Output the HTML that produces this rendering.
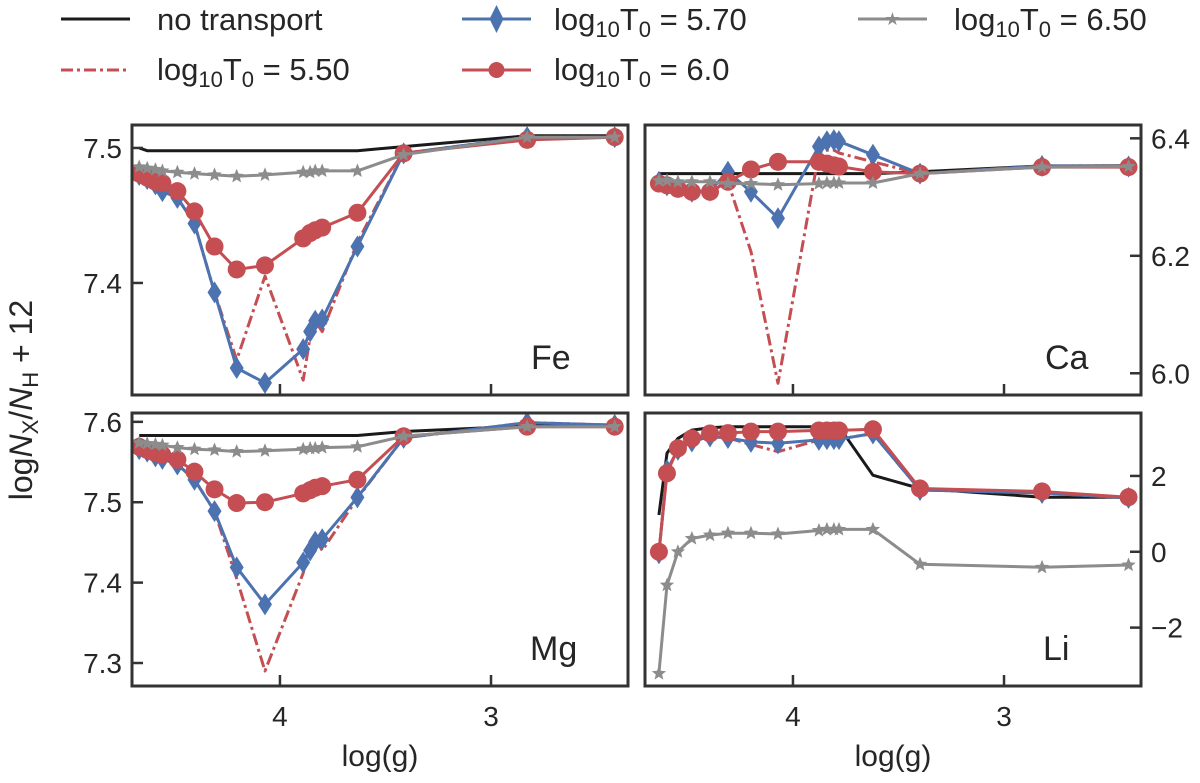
<!DOCTYPE html>
<html><head><meta charset="utf-8">
<style>
html,body{margin:0;padding:0;background:#fff;}
svg{display:block;font-family:"Liberation Sans","DejaVu Sans",sans-serif;}
</style></head>
<body>
<svg id="fig" width="1200" height="783" viewBox="0 0 1200 783" xmlns="http://www.w3.org/2000/svg">
  <g id="legend">
    <g>
      <line x1="61" y1="19" x2="130" y2="19" stroke="#1a1a1a" stroke-width="3"/>
      <text x="157" y="30" font-size="31" fill="#262626">no transport</text>
    </g>
    <g>
      <line x1="61" y1="70" x2="130" y2="70" stroke="#c44e52" stroke-width="3" stroke-dasharray="12,4,3,4"/>
      <text x="157" y="80" font-size="31" fill="#262626">log<tspan font-size="22" dy="7">10</tspan><tspan dy="-7">T</tspan><tspan font-size="22" dy="7">0</tspan><tspan dy="-7"> = 5.50</tspan></text>
    </g>
    <g>
      <line x1="462" y1="19" x2="531" y2="19" stroke="#4c72b0" stroke-width="3"/>
      <polygon points="496.5,5 503.5,19 496.5,33 489.5,19" fill="#4c72b0"/>
      <text x="554" y="30" font-size="31" fill="#262626">log<tspan font-size="22" dy="7">10</tspan><tspan dy="-7">T</tspan><tspan font-size="22" dy="7">0</tspan><tspan dy="-7"> = 5.70</tspan></text>
    </g>
    <g>
      <line x1="462" y1="70" x2="531" y2="70" stroke="#c44e52" stroke-width="3"/>
      <circle cx="496.5" cy="70" r="8" fill="#c44e52"/>
      <text x="554" y="80" font-size="31" fill="#262626">log<tspan font-size="22" dy="7">10</tspan><tspan dy="-7">T</tspan><tspan font-size="22" dy="7">0</tspan><tspan dy="-7"> = 6.0</tspan></text>
    </g>
    <g>
      <line x1="858" y1="19" x2="927" y2="19" stroke="#8c8c8c" stroke-width="3"/>
      <text x="892.5" y="25" font-size="18" fill="#8c8c8c" text-anchor="middle">★</text>
      <text x="954" y="30" font-size="31" fill="#262626">log<tspan font-size="22" dy="7">10</tspan><tspan dy="-7">T</tspan><tspan font-size="22" dy="7">0</tspan><tspan dy="-7"> = 6.50</tspan></text>
    </g>
  </g>
  <text transform="translate(32,400) rotate(-90)" text-anchor="middle" font-size="32" fill="#262626">log<tspan font-style="italic">N</tspan><tspan font-size="22" dy="6">X</tspan><tspan dy="-6">/</tspan><tspan font-style="italic">N</tspan><tspan font-size="22" dy="6">H</tspan><tspan dy="-6"> + 12</tspan></text>
  <text x="380" y="766" text-anchor="middle" font-size="30" fill="#262626">log(g)</text>
  <text x="893" y="766" text-anchor="middle" font-size="30" fill="#262626">log(g)</text>
</svg>
<script>
const xLeft = [4.667,4.629,4.590,4.557,4.486,4.405,4.310,4.205,4.071,3.890,3.857,3.833,3.800,3.633,3.414,2.829,2.414];
const xRight = [4.635,4.597,4.545,4.479,4.393,4.308,4.199,4.071,3.877,3.839,3.806,3.782,3.621,3.398,2.82,2.41];
const xTicks = [4,3];
const feNoT = [7.500,7.498,7.498,7.498,7.498,7.498,7.498,7.498,7.498,7.498,7.498,7.498,7.498,7.498,7.501,7.509,7.509];
const fe550 = [7.480,7.477,7.473,7.468,7.463,7.444,7.393,7.343,7.405,7.328,7.360,7.372,7.364,7.430,7.496,7.508,7.508];
const fe570 = [7.480,7.477,7.473,7.468,7.463,7.444,7.393,7.337,7.326,7.351,7.364,7.372,7.373,7.427,7.496,7.508,7.508];
const fe600 = [7.481,7.478,7.475,7.474,7.468,7.453,7.427,7.410,7.413,7.433,7.437,7.439,7.441,7.452,7.496,7.506,7.508];
const fe650 = [7.486,7.485,7.484,7.483,7.482,7.481,7.480,7.479,7.480,7.482,7.482,7.483,7.483,7.483,7.495,7.508,7.508];
const feTicks = [7.4,7.5];
const mgNoT = [7.583,7.583,7.583,7.583,7.583,7.583,7.583,7.583,7.583,7.583,7.583,7.583,7.583,7.583,7.588,7.595,7.595];
const mg550 = [7.566,7.563,7.557,7.554,7.547,7.528,7.489,7.405,7.290,7.412,7.450,7.455,7.440,7.505,7.580,7.599,7.596];
const mg570 = [7.566,7.563,7.557,7.554,7.547,7.528,7.489,7.419,7.373,7.425,7.440,7.451,7.454,7.506,7.580,7.599,7.596];
const mg600 = [7.569,7.565,7.561,7.559,7.553,7.538,7.516,7.499,7.500,7.511,7.515,7.518,7.520,7.528,7.582,7.594,7.594];
const mg650 = [7.574,7.573,7.572,7.571,7.568,7.566,7.565,7.563,7.564,7.566,7.567,7.567,7.568,7.569,7.582,7.594,7.594];
const mgTicks = [7.3,7.4,7.5,7.6];
const caNoT = [6.340,6.340,6.340,6.340,6.340,6.340,6.340,6.340,6.340,6.340,6.340,6.340,6.340,6.343,6.353,6.353];
const ca550 = [6.326,6.320,6.317,6.309,6.311,6.326,6.207,5.983,6.375,6.380,6.380,6.375,6.360,6.340,6.353,6.352];
const ca570 = [6.326,6.320,6.317,6.309,6.311,6.343,6.309,6.264,6.386,6.395,6.397,6.395,6.372,6.340,6.353,6.352];
const ca600 = [6.323,6.320,6.314,6.309,6.309,6.326,6.347,6.360,6.360,6.357,6.354,6.352,6.343,6.340,6.351,6.351];
const ca650 = [6.328,6.328,6.326,6.326,6.326,6.323,6.323,6.321,6.323,6.324,6.324,6.324,6.324,6.340,6.351,6.352];
const caTicks = [6.0,6.2,6.4];
const liNoT = [0.97,2.60,2.99,3.21,3.27,3.30,3.30,3.30,3.30,3.30,3.30,3.30,2.02,1.67,1.44,1.44];
const li550 = [-0.04,2.15,2.69,2.91,3.04,3.00,2.83,2.64,2.95,2.97,2.97,2.97,3.12,1.63,1.55,1.42];
const li570 = [-0.04,2.15,2.69,2.91,3.04,3.00,2.90,2.86,2.95,2.97,2.97,2.97,3.12,1.63,1.55,1.42];
const li600 = [0.0,2.07,2.73,2.99,3.12,3.13,3.17,3.17,3.20,3.20,3.20,3.20,3.23,1.67,1.59,1.44];
const li650 = [-3.21,-0.88,0.0,0.35,0.44,0.49,0.49,0.47,0.56,0.59,0.59,0.59,0.59,-0.33,-0.41,-0.35];
const liTicks = [-2,0,2];

const NS = "http://www.w3.org/2000/svg";
const svg = document.getElementById('fig');
function mk(tag, attrs, parent){
  const e = document.createElementNS(NS, tag);
  for (const k in attrs) e.setAttribute(k, attrs[k]);
  (parent||svg).appendChild(e);
  return e;
}
function panel(name, box, xs, yDom, ticks, tickSide, series, label, labelPos){
  const [x0,y0,x1,y1] = box;
  const xDom = [4.701, 2.351];
  const sx = v => x0 + (v - xDom[0])/(xDom[1]-xDom[0])*(x1-x0);
  const sy = v => y1 - (v - yDom[0])/(yDom[1]-yDom[0])*(y1-y0);
  const g = mk('g', {});
  
  
  const cid = 'clip-' + name;
  const cp = mk('clipPath', {id: cid}, g);
  mk('rect', {x:x0, y:y0, width:x1-x0, height:y1-y0}, cp);
  const plot = mk('g', {'clip-path': 'url(#'+cid+')'}, g);
  for (const s of series){
    const sg = mk('g', {}, plot);
    
    
    const pts = s.data.map((v,i) => sx(xs[i]).toFixed(1)+','+sy(v).toFixed(1)).join(' ');
    const pl = mk('polyline', {points: pts, fill:'none', stroke:s.color, 'stroke-width':s.w||3, 'stroke-linejoin':'round'}, sg);
    if (s.dash) pl.setAttribute('stroke-dasharray', s.dash);
    s.data.forEach((v,i) => {
      const cx = sx(xs[i]), cy = sy(v);
      let m = null;
      if (s.marker === 'circle') m = mk('circle', {cx, cy, r:9, fill:s.color}, sg);
      else if (s.marker === 'diamond') m = mk('polygon', {points:`${cx},${cy-11} ${cx+7},${cy} ${cx},${cy+11} ${cx-7},${cy}`, fill:s.color}, sg);
      else if (s.marker === 'star'){
        let p = [];
        for (let k=0;k<10;k++){const r = k%2?3.3:7.5; const a = -Math.PI/2 + k*Math.PI/5; p.push((cx+r*Math.cos(a)).toFixed(1)+','+(cy+r*Math.sin(a)).toFixed(1));}
        m = mk('polygon', {points:p.join(' '), fill:s.color}, sg);
      }
      if (m){
        
        
      }
    });
  }
  const fr = mk('rect', {x:x0, y:y0, width:x1-x0, height:y1-y0, fill:'none', stroke:'#333', 'stroke-width':3}, g);
  
  
  for (const t of xTicks){
    const x = sx(t);
    const tl = mk('line', {x1:x, y1:y1, x2:x, y2:y1-11, stroke:'#333', 'stroke-width':2.5}, g);
    
    
    if (y1 > 600){
      const tt = mk('text', {x:x, y:y1+40, 'text-anchor':'middle', 'font-size':28, fill:'#262626'}, g);
      tt.textContent = String(t);
      
      
    }
  }
  for (const t of ticks){
    const y = sy(t);
    const xa = tickSide === 'left' ? x0 : x1;
    const dir = tickSide === 'left' ? 1 : -1;
    const tl = mk('line', {x1:xa, y1:y, x2:xa+dir*11, y2:y, stroke:'#333', 'stroke-width':2.5}, g);
    
    
    const tt = mk('text', {x: tickSide==='left' ? x0-10 : x1+10, y:y+10, 'text-anchor': tickSide==='left'?'end':'start', 'font-size':28, fill:'#262626'}, g);
    tt.textContent = t < 0 ? '\u2212' + Math.abs(t) : (name==='li' ? String(t) : t.toFixed(1));
    
    
  }
  const lb = mk('text', {x:labelPos[0], y:labelPos[1], 'font-size':34, fill:'#262626'}, g);
  lb.textContent = label;
  
  
}
function S(noT,a,b,c,d){
  return [
    {key:'no-transport', data:noT, color:'#1a1a1a', w:3},
    {key:'t550', data:a, color:'#c44e52', dash:'12,4,3,4', w:3},
    {key:'t570', data:b, color:'#4c72b0', marker:'diamond'},
    {key:'t600', data:c, color:'#c44e52', marker:'circle'},
    {key:'t650', data:d, color:'#8c8c8c', marker:'star'}
  ];
}
panel('fe', [132,125,628,395], xLeft, [7.317,7.517], feTicks, 'left', S(feNoT,fe550,fe570,fe600,fe650), 'Fe', [531,369]);
panel('ca', [645,125,1141,395], xRight, [5.963,6.4227], caTicks, 'right', S(caNoT,ca550,ca570,ca600,ca650), 'Ca', [1045,369]);
panel('mg', [132,413,628,686], xLeft, [7.2714,7.611], mgTicks, 'left', S(mgNoT,mg550,mg570,mg600,mg650), 'Mg', [530,660]);
panel('li', [645,413,1141,686], xRight, [-3.54,3.66], liTicks, 'right', S(liNoT,li550,li570,li600,li650), 'Li', [1043,660]);
</script>
</body></html>
